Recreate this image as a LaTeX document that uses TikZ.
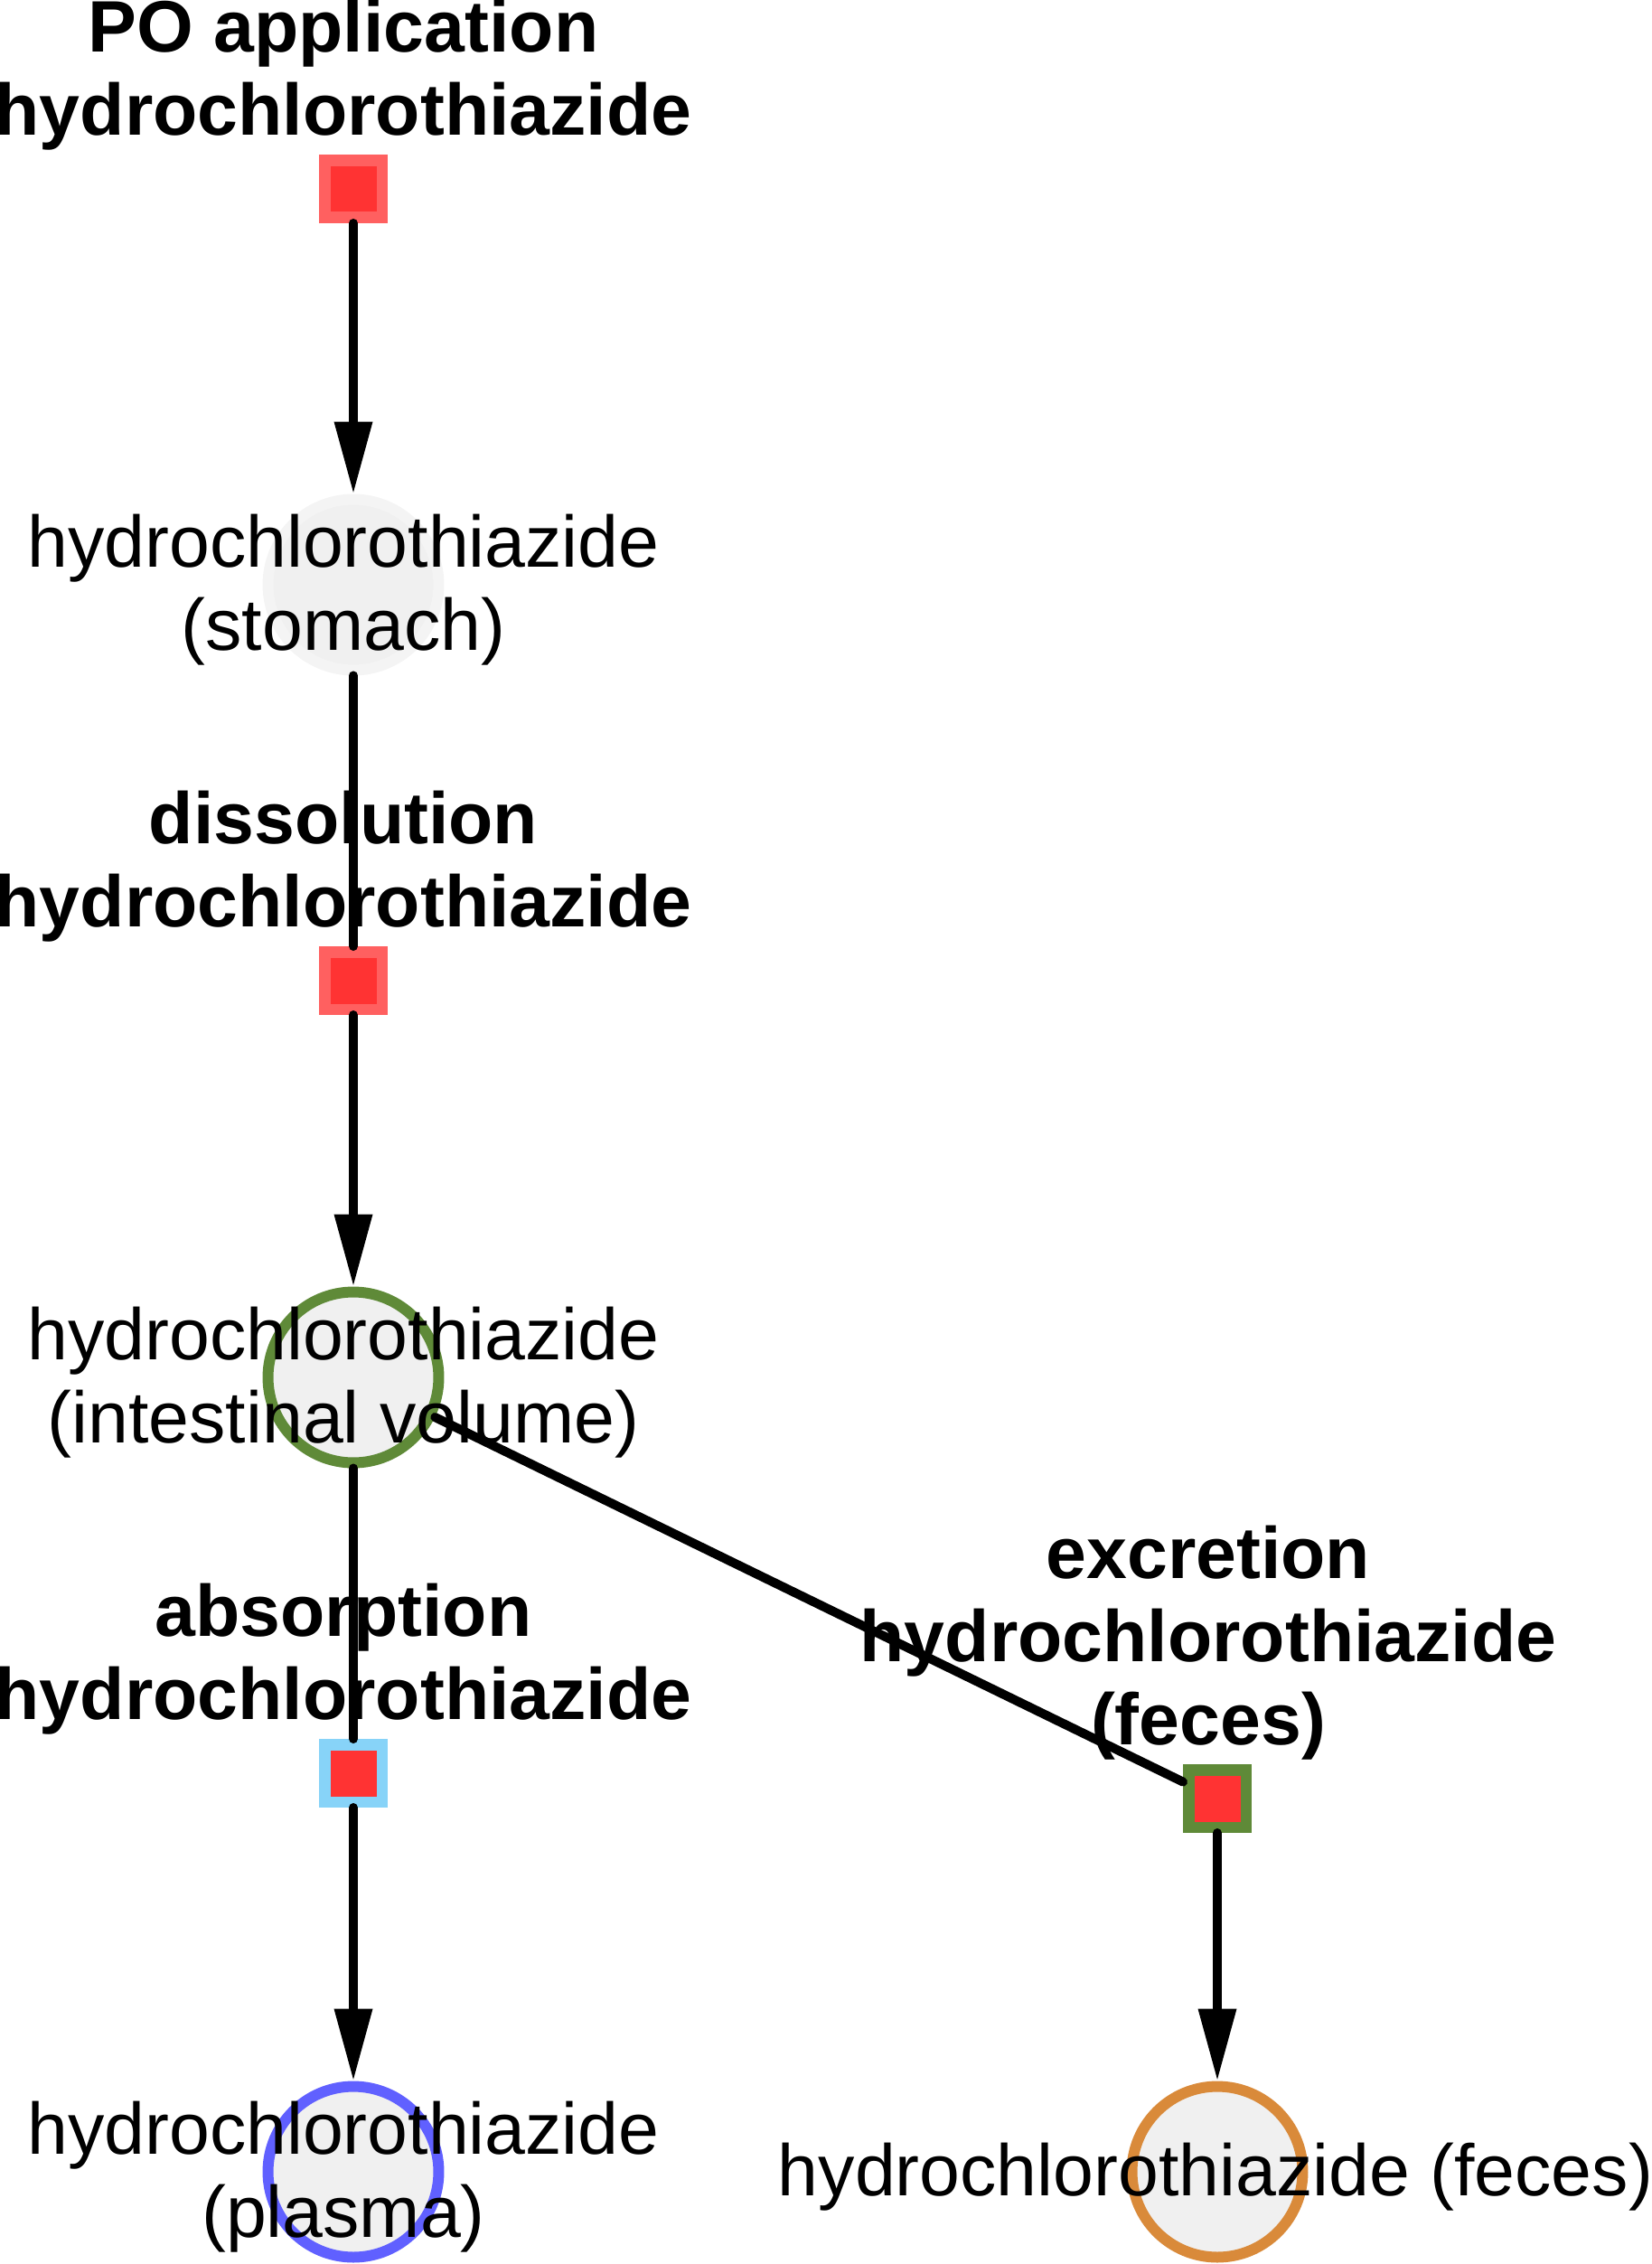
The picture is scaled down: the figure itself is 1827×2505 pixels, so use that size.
\documentclass[tikz,border=0pt]{standalone}
\usepackage{fontspec}
\setmainfont{Liberation Sans}
\usetikzlibrary{arrows.meta,positioning}
\definecolor{rxnred}{HTML}{FF3333}
\definecolor{rxnpink}{HTML}{FF6060}
\definecolor{leafgreen}{HTML}{5F8A38}
\definecolor{skyblue}{HTML}{87D3F8}
\definecolor{plasmablue}{HTML}{6060FF}
\definecolor{fecesorange}{HTML}{D98A3A}
\definecolor{nodegray}{HTML}{F0F0F0}
\definecolor{nodeedge}{HTML}{F4F4F4}

\begin{document}
\begin{tikzpicture}[x=0.02cm, y=0.02cm,
  font=\fontsize{45.9}{52.4}\selectfont,
  reaction/.style={rectangle, fill=rxnred, line width=0.25cm, minimum size=1.27cm, inner sep=0pt},
  species/.style={circle, fill=nodegray, line width=0.24cm, minimum size=3.78cm, inner sep=0pt},
  rxnlabel/.style={font=\fontsize{45.9}{52.4}\selectfont\bfseries, align=center, anchor=south, inner sep=0pt},
  spclabel/.style={align=center, inner sep=0pt},
  flow/.style={line width=0.2cm, line cap=round},
  feed/.style={flow, -{Triangle[length=1.6cm, width=0.8cm]}}
]
\useasboundingbox (0,0) rectangle (1827,-2505);

% Species
\node[species, draw=nodeedge] (stomach) at (391,-647) {};
\node[species, draw=leafgreen] (intestine) at (391,-1524) {};
\node[species, draw=plasmablue] (plasma) at (391,-2403) {};
\node[species, draw=fecesorange] (feces) at (1347,-2403) {};

% Reactions
\node[reaction, draw=rxnpink] (po) at (391,-209) {};
\node[reaction, draw=rxnpink] (diss) at (391,-1085) {};
\node[reaction, draw=skyblue] (absorp) at (391,-1962) {};
\node[reaction, draw=leafgreen] (excr) at (1347,-1990) {};

% Connectors
\draw[feed] (po) -- (stomach);
\draw[flow] (stomach) -- (diss);
\draw[feed] (diss) -- (intestine);
\draw[flow] (intestine) -- (absorp);
\draw[feed] (absorp) -- (plasma);
\draw[flow] (intestine) -- (excr);
\draw[feed] (excr) -- (feces);

% Labels
\node[rxnlabel] (polbl) at (380,-167) {PO application\\hydrochlorothiazide};
\node[rxnlabel] (disslbl) at (380,-1043) {dissolution\\hydrochlorothiazide};
\node[rxnlabel] (absorplbl) at (380,-1920) {absorption\\hydrochlorothiazide};
\node[rxnlabel] (excrlbl) at (1337,-1948) {excretion\\hydrochlorothiazide\\(feces)};
\node[spclabel] (stomachlbl) at (380,-653) {hydrochlorothiazide\\(stomach)};
\node[spclabel] (intestinelbl) at (380,-1530) {hydrochlorothiazide\\(intestinal volume)};
\node[spclabel] (plasmalbl) at (380,-2409) {hydrochlorothiazide\\(plasma)};
\node[spclabel] (feceslbl) at (1345,-2409) {hydrochlorothiazide (feces)};
\end{tikzpicture}
\end{document}
